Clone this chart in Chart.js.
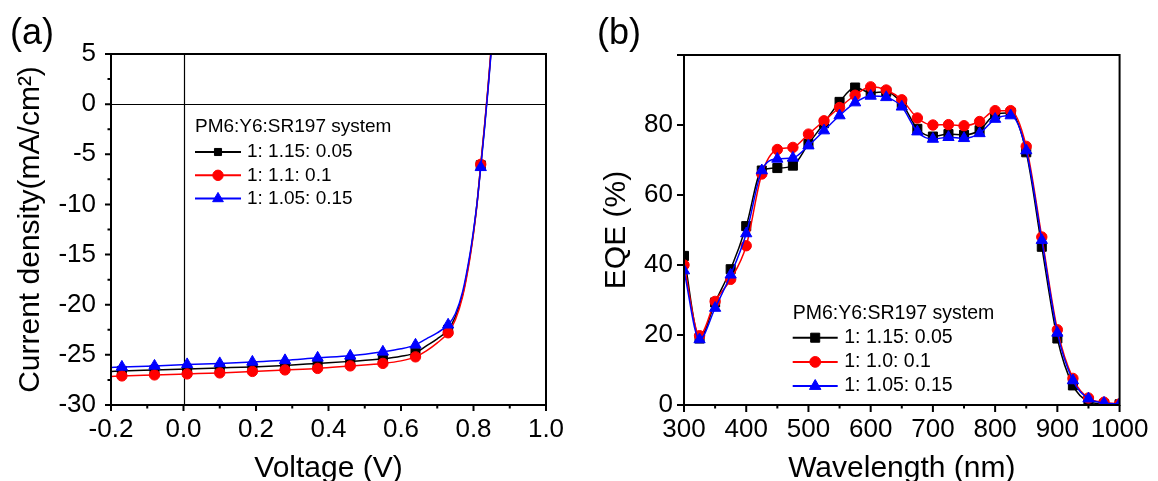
<!DOCTYPE html>
<html><head><meta charset="utf-8">
<script src="https://cdn.jsdelivr.net/npm/chart.js@4.4.0/dist/chart.umd.min.js"></script>
<style>
html,body{margin:0;padding:0;background:#fff;}
#wrap{position:relative;width:1158px;height:481px;overflow:hidden;background:#fff;}
.pane{position:absolute;top:0;height:481px;}
</style></head><body>
<div id="wrap">
  <div class="pane" style="left:0;width:580px"><canvas id="c1" width="580" height="481"></canvas></div>
  <div class="pane" style="left:580px;width:578px"><canvas id="c2" width="578" height="481"></canvas></div>
</div>
<script>
// ---------------- DATA ----------------
// (a) J-V curves
const voltage = [-0.2, -0.17, -0.08, 0.01, 0.10, 0.19, 0.28, 0.37, 0.46, 0.55, 0.60, 0.64, 0.67, 0.70, 0.73, 0.75, 0.77, 0.79, 0.80, 0.81, 0.82, 0.83, 0.84, 0.85];
const jBlack = [-26.65, -26.6, -26.5, -26.4, -26.3, -26.2, -26.05, -25.85, -25.65, -25.4, -25.15, -24.8, -24.1, -23.4, -22.5, -21.2, -19.0, -15.2, -12.8, -9.8, -6.1, -2.4, 1.6, 6.0];
const jRed   = [-27.15, -27.1, -27.0, -26.9, -26.8, -26.65, -26.5, -26.35, -26.1, -25.85, -25.6, -25.2, -24.6, -23.8, -22.8, -21.5, -19.2, -15.4, -12.9, -9.9, -6.0, -2.3, 1.7, 6.2];
const jBlue  = [-26.25, -26.2, -26.1, -25.95, -25.85, -25.7, -25.55, -25.3, -25.1, -24.7, -24.4, -24.0, -23.4, -22.8, -22.0, -20.9, -18.7, -15.0, -12.6, -9.8, -6.3, -2.6, 1.4, 5.8];
const jvMarkerVoltages = [-0.17, -0.08, 0.01, 0.10, 0.19, 0.28, 0.37, 0.46, 0.55, 0.64, 0.73, 0.82];
const jvLabels = ['1: 1.15: 0.05', '1: 1.1: 0.1', '1: 1.05: 0.15'];

// (b) EQE spectra
const wavelength = [300,325,350,375,400,425,450,475,500,525,550,575,600,625,650,675,700,725,750,775,800,825,850,875,900,925,950,975,1000];
const eqeBlack = [42.6,19.0,29.3,38.8,51.1,67.0,67.7,68.4,74.6,80.5,86.6,90.7,89.2,89.5,86.2,78.9,76.7,77.4,77.2,78.5,83.0,83.5,72.2,45.2,19.0,5.6,1.0,0.3,0.2];
const eqeRed   = [40.0,19.8,29.6,35.9,45.5,66.0,73.0,73.6,77.4,81.2,85.0,88.5,90.9,90.0,87.2,82.0,80.0,80.1,79.8,81.0,84.1,84.1,73.9,48.0,21.5,7.6,2.0,0.8,0.3];
const eqeBlue  = [38.4,18.7,27.7,37.2,49.0,67.0,70.3,70.6,74.1,78.4,82.7,86.4,88.3,87.9,85.2,78.1,76.0,76.5,76.2,77.6,81.7,82.7,72.7,47.1,20.6,7.0,1.8,0.6,0.3];
const eqeLabels = ['1: 1.15: 0.05', '1: 1.0: 0.1', '1: 1.05: 0.15'];

const legendTitle = 'PM6:Y6:SR197 system';
const xTitleA = 'Voltage (V)';
const yTitleA = 'Current density(mA/cm²)';
const xTitleB = 'Wavelength (nm)';
const yTitleB = 'EQE (%)';

// ---------------- STYLE ----------------
const FONT = "'Liberation Sans', Arial, Helvetica, sans-serif";
Chart.defaults.font.family = FONT;
Chart.defaults.color = '#000';
const COLORS = ['#000000', '#ff0000', '#0000ff'];
const STYLES = ['rect', 'circle', 'triangle'];
const RADII = [6.4, 5.2, 6.5];

function drawMarker(ctx, style, x, y, r, color) {
  ctx.save();
  ctx.fillStyle = color; ctx.strokeStyle = color; ctx.lineWidth = 1;
  ctx.beginPath();
  if (style === 'rect') { const s = Math.SQRT1_2 * r; ctx.rect(x - s, y - s, 2 * s, 2 * s); }
  else if (style === 'circle') { ctx.arc(x, y, r, 0, Math.PI * 2); }
  else { ctx.moveTo(x, y - r); ctx.lineTo(x + 0.866 * r, y + 0.5 * r); ctx.lineTo(x - 0.866 * r, y + 0.5 * r); ctx.closePath(); }
  ctx.fill(); ctx.stroke();
  ctx.restore();
}

const framePlugin = {
  id: 'frame',
  beforeDatasetsDraw(chart, args, o) {
    if (!o.zeroLines) return;
    const {ctx, chartArea: a, scales: {x, y}} = chart;
    ctx.save(); ctx.strokeStyle = '#000'; ctx.lineWidth = 1.2;
    const px = Math.round(x.getPixelForValue(0)) + 0.5, py = Math.round(y.getPixelForValue(0)) + 0.5;
    ctx.beginPath(); ctx.moveTo(px, a.top); ctx.lineTo(px, a.bottom);
    ctx.moveTo(a.left, py); ctx.lineTo(a.right, py); ctx.stroke();
    ctx.restore();
  },
  afterDatasetsDraw(chart, args, o) {
    const {ctx, chartArea: a, scales: {x, y}} = chart;
    ctx.save(); ctx.strokeStyle = '#000'; ctx.lineWidth = 2;
    ctx.strokeRect(a.left, a.top, a.right - a.left, a.bottom - a.top);
    const xt = x.ticks.map(t => t.value), yt = y.ticks.map(t => t.value);
    ctx.beginPath();
    xt.forEach(v => { const p = x.getPixelForValue(v); ctx.moveTo(p, a.bottom); ctx.lineTo(p, a.bottom + o.major); });
    yt.forEach(v => { const p = y.getPixelForValue(v); ctx.moveTo(a.left, p); ctx.lineTo(a.left - o.major, p); });
    if (o.minorX) for (let i = 0; i < xt.length - 1; i++) { const p = x.getPixelForValue((xt[i] + xt[i + 1]) / 2); ctx.moveTo(p, a.bottom); ctx.lineTo(p, a.bottom + o.minor); }
    if (o.minorY) for (let i = 0; i < yt.length - 1; i++) { const p = y.getPixelForValue((yt[i] + yt[i + 1]) / 2); ctx.moveTo(a.left, p); ctx.lineTo(a.left - o.minor, p); }
    ctx.stroke();
    ctx.restore();
  },
  afterDraw(chart, args, o) {
    const ctx = chart.ctx;
    ctx.save();
    // panel label
    ctx.fillStyle = '#000'; ctx.font = '36px ' + FONT; ctx.textBaseline = 'alphabetic'; ctx.textAlign = 'left';
    ctx.fillText(o.panel, o.panelX, o.panelY);
    // legend
    const L = o.legend;
    ctx.font = L.size + 'px ' + FONT; ctx.textBaseline = 'middle';
    ctx.fillText(legendTitle, L.x, L.titleY);
    chart.data.datasets.forEach((ds, i) => {
      const yy = L.rowY + i * L.gap;
      ctx.strokeStyle = ds.borderColor; ctx.lineWidth = 2;
      ctx.beginPath(); ctx.moveTo(L.x, yy); ctx.lineTo(L.x + L.len, yy); ctx.stroke();
      drawMarker(ctx, ds.pointStyle, L.x + L.len / 2, yy, L.r[i], ds.borderColor);
      ctx.fillStyle = '#000';
      ctx.fillText(ds.label, L.x + L.len + L.textGap, yy);
    });
    ctx.restore();
  }
};

function makeDataset(label, xs, ys, i, radii) {
  return {
    label, data: xs.map((v, k) => ({x: v, y: ys[k]})),
    borderColor: COLORS[i], backgroundColor: COLORS[i], borderWidth: 1.5,
    pointStyle: STYLES[i], pointRadius: radii, pointBorderWidth: 1,
    pointBackgroundColor: COLORS[i], pointBorderColor: COLORS[i],
    cubicInterpolationMode: 'monotone', fill: false, order: 3 - i
  };
}

function axis(min, max, step, fmt, title, pad, titlePad, fit, isX) {
  return {
    type: 'linear', min, max,
    ticks: {stepSize: step, font: {size: 26, family: FONT}, color: '#000', padding: pad, callback: fmt, maxRotation: 0, autoSkip: false},
    grid: {display: false, drawTicks: false}, border: {display: false},
    title: {display: true, text: title, color: '#000', font: {size: 30, family: FONT, lineHeight: 1}, padding: titlePad},
    afterFit: s => { if (isX) s.height = fit; else s.width = fit; }
  };
}

// ---------------- (a) ----------------
const jvRadius = i => voltage.map(v => jvMarkerVoltages.includes(v) ? RADII[i] : 0);
new Chart(document.getElementById('c1'), {
  type: 'line',
  data: {datasets: [
    makeDataset(jvLabels[0], voltage, jBlack, 0, jvRadius(0)),
    makeDataset(jvLabels[1], voltage, jRed, 1, jvRadius(1)),
    makeDataset(jvLabels[2], voltage, jBlue, 2, jvRadius(2))
  ]},
  options: {
    responsive: false, animation: false, devicePixelRatio: 1,
    layout: {padding: {left: 0, right: 34, top: 54, bottom: 0}},
    scales: {
      x: axis(-0.2, 1.0, 0.2, v => (Math.abs(v) < 1e-9 ? 0 : v).toFixed(1), xTitleA, 9.5, {top: 0, bottom: -2.5}, 76, true),
      y: axis(-30, 5, 5, v => String(Math.round(v)), yTitleA, 15, {top: 16, bottom: 0}, 111, false)
    },
    plugins: {
      legend: {display: false}, tooltip: {enabled: false},
      frame: {zeroLines: true, major: 6, minor: 3.5, minorX: true, minorY: true, panel: '(a)', panelX: 10, panelY: 44,
        legend: {x: 195, titleY: 127, rowY: 152, gap: 23.3, len: 46, textGap: 6, size: 19, r: [5, 5.2, 6.2]}}
    }
  },
  plugins: [framePlugin]
});

// ---------------- (b) ----------------
new Chart(document.getElementById('c2'), {
  type: 'line',
  data: {datasets: [
    makeDataset(eqeLabels[0], wavelength, eqeBlack, 0, RADII[0]),
    makeDataset(eqeLabels[1], wavelength, eqeRed, 1, RADII[1]),
    makeDataset(eqeLabels[2], wavelength, eqeBlue, 2, RADII[2])
  ]},
  options: {
    responsive: false, animation: false, devicePixelRatio: 1,
    layout: {padding: {left: 0, right: 37, top: 55, bottom: 0}},
    scales: {
      x: axis(300, 1000, 100, v => String(Math.round(v)), xTitleB, 9.5, {top: 0, bottom: -2.5}, 76, true),
      y: axis(0, 100, 20, v => (Math.round(v) === 100 ? '' : String(Math.round(v))), yTitleB, 11, {top: 22, bottom: 0}, 104, false)
    },
    plugins: {
      legend: {display: false}, tooltip: {enabled: false},
      frame: {zeroLines: false, major: 7, minor: 3.5, minorX: true, minorY: false, panel: '(b)', panelX: 17, panelY: 44,
        legend: {x: 212.7, titleY: 313.5, rowY: 337.7, gap: 24.2, len: 45, textGap: 6.5, size: 19.5, r: [6.4, 5.4, 6.6]}}
    }
  },
  plugins: [framePlugin]
});
</script>
</body></html>
